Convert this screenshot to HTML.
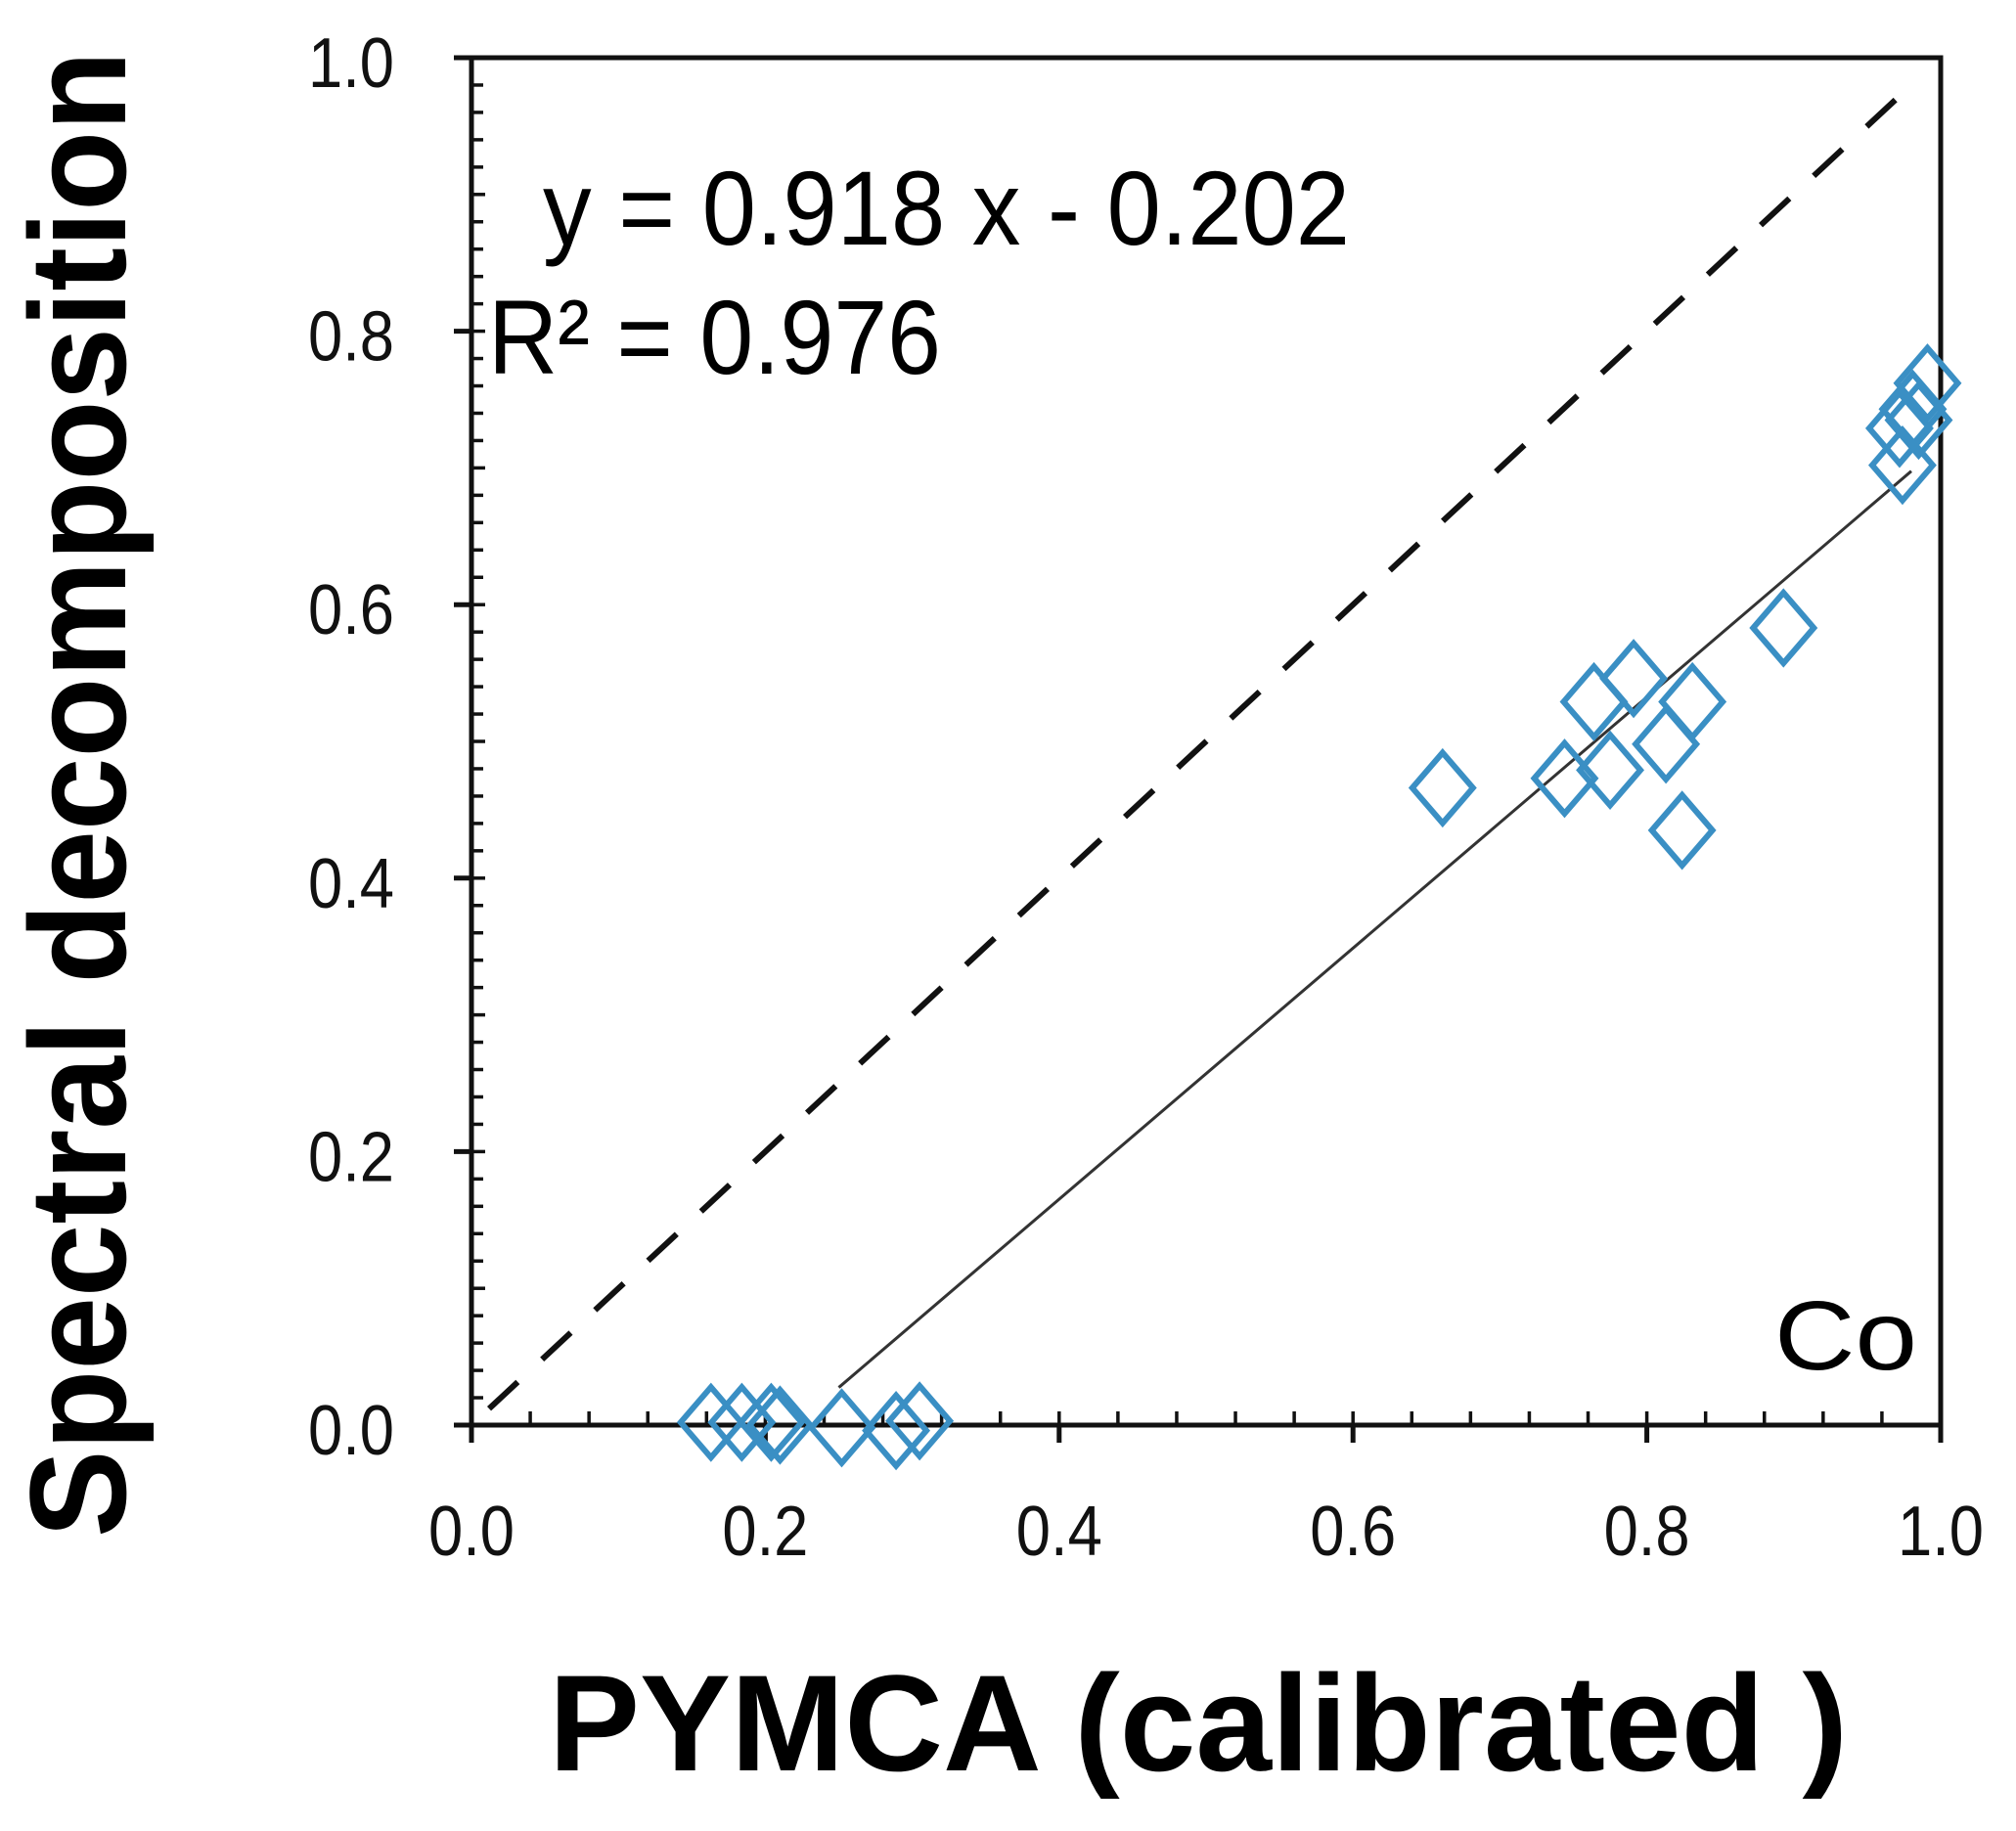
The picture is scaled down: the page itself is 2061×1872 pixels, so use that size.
<!DOCTYPE html>
<html><head><meta charset="utf-8"><style>html,body{margin:0;padding:0;background:#fff}svg{display:block}</style></head>
<body>
<svg id="chart" width="2061" height="1872" viewBox="0 0 2061 1872" xmlns="http://www.w3.org/2000/svg" font-family="Liberation Sans, sans-serif">
<g id="axes"></g>
<g id="lines"></g>
<g id="points"></g>
<text x="555" y="250" font-size="108" textLength="825" lengthAdjust="spacingAndGlyphs">y = 0.918 x - 0.202</text>
<text x="499" y="382" font-size="108" textLength="463" lengthAdjust="spacingAndGlyphs">R² = 0.976</text>
<text x="1814" y="1400" font-size="100" textLength="146" lengthAdjust="spacingAndGlyphs">Co</text>
<text transform="translate(128,812) rotate(-90)" text-anchor="middle" font-size="140" font-weight="bold" textLength="1520" lengthAdjust="spacingAndGlyphs">Spectral decomposition</text>
<text x="561" y="1810" font-size="140" font-weight="bold" textLength="1328" lengthAdjust="spacingAndGlyphs">PYMCA  (calibrated )</text>
</svg>
<script>
const xTicks=[0,0.2,0.4,0.6,0.8,1.0];
const yTicks=[0,0.2,0.4,0.6,0.8,1.0];
const tickLabels=["0.0","0.2","0.4","0.6","0.8","1.0"];
const xValues=[0.163,0.184,0.204,0.21,0.252,0.289,0.305,0.661,0.744,0.764,0.775,0.791,0.813,0.831,0.824,0.893,0.974,0.972,0.981,0.991,0.985];
const yValues=[0.002,0.002,0.002,0.0,-0.002,-0.004,0.003,0.466,0.473,0.529,0.479,0.546,0.498,0.529,0.435,0.583,0.702,0.729,0.743,0.762,0.735];
const fitSlope=0.918, fitIntercept=-0.202;
const NS="http://www.w3.org/2000/svg";
const L=482,R=1984,T=59,B=1457;
const sx=v=>L+(R-L)*v, sy=v=>B-(B-T)*v;
function mk(tag,attrs,parent){const e=document.createElementNS(NS,tag);for(const k in attrs)e.setAttribute(k,attrs[k]);parent.appendChild(e);return e;}
const ax=document.getElementById('axes');
const frame=mk('rect',{x:L,y:T,width:R-L,height:B-T,fill:'none',stroke:'#111','stroke-width':5},ax);


for(let i=1;i<50;i++){const v=i*0.02;const t=mk('line',{x1:L,x2:L+(i%5===0?14:12),y1:sy(v),y2:sy(v),stroke:'#111','stroke-width':3.5},ax);

}
for(let i=1;i<25;i++){const v=i*0.04;const t=mk('line',{x1:sx(v),x2:sx(v),y1:B,y2:B-14,stroke:'#111','stroke-width':3.5},ax);

}
yTicks.forEach((v,i)=>{const t=mk('line',{x1:L-18,x2:L,y1:sy(v),y2:sy(v),stroke:'#111','stroke-width':5},ax);


const tx=mk('text',{x:403,y:sy(v)+30,'text-anchor':'end','font-size':72,textLength:88,lengthAdjust:'spacingAndGlyphs',fill:'#111'},ax);tx.textContent=tickLabels[i];

});
xTicks.forEach((v,i)=>{const t=mk('line',{x1:sx(v),x2:sx(v),y1:B,y2:B+18,stroke:'#111','stroke-width':5},ax);


const tx=mk('text',{x:sx(v),y:1590,'text-anchor':'middle','font-size':72,textLength:88,lengthAdjust:'spacingAndGlyphs',fill:'#111'},ax);tx.textContent=tickLabels[i];

});
const ln=document.getElementById('lines');
const id=mk('line',{x1:sx(0.012),y1:sy(0.012),x2:sx(0.97),y2:sy(0.97),stroke:'#111','stroke-width':6,'stroke-dasharray':'40 34'},ln);


const x0=0.25,x1=0.98;
const fit=mk('line',{x1:sx(x0),y1:sy(fitSlope*x0+fitIntercept),x2:sx(x1),y2:sy(fitSlope*x1+fitIntercept),stroke:'#333','stroke-width':3},ln);


const pg=document.getElementById('points');
xValues.forEach((v,i)=>{const cx=sx(v),cy=sy(yValues[i]);
const p=mk('polygon',{points:`${cx},${cy-36} ${cx+31},${cy} ${cx},${cy+36} ${cx-31},${cy}`,fill:'none',stroke:'#3a8fc4','stroke-width':6},pg);

});
</script>
</body></html>
